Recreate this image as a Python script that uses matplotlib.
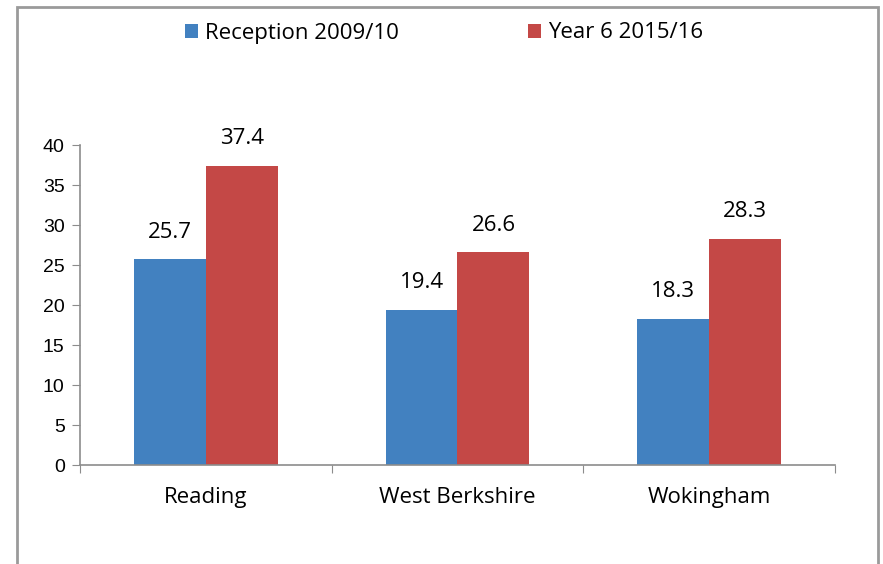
import numpy as np
import matplotlib.pyplot as plt
from matplotlib.patches import Rectangle

areas = ["Reading", "West Berkshire", "Wokingham"]
reception = [25.7, 19.4, 18.3]
year6 = [37.4, 26.6, 28.3]
series_names = ["Reception 2009/10", "Year 6 2015/16"]

blue = '#4281C0'
red = '#C44846'
grey = '#8C8C8C'

fig = plt.figure(figsize=(8.83, 5.64), dpi=100)
fig.patches.append(Rectangle((17/883, -0.1), (878-17)/883, 1.1 - 7/564, transform=fig.transFigure,
                             fill=False, edgecolor='#9A9A9A', linewidth=2))
ax = fig.add_axes([80/883, 1-465/564, (835-80)/883, (465-145)/564])

x = np.arange(len(areas))
w = 0.286
b1 = ax.bar(x - w/2, reception, w, color=blue, label=series_names[0])
b2 = ax.bar(x + w/2, year6, w, color=red, label=series_names[1])

for bars, vals in [(b1, reception), (b2, year6)]:
    for bar, v in zip(bars, vals):
        ax.annotate(f"{v:.1f}", (bar.get_x() + bar.get_width()/2, v), xytext=(0, 12),
                    textcoords='offset points', ha='center', va='bottom',
                    fontsize=16, family='Open Sans')

ax.set_xlim(-0.5, 2.5)
ax.set_ylim(0, 40)
ax.set_yticks(np.arange(0, 41, 5))
ax.set_yticklabels([str(v) for v in range(0, 41, 5)], family='Liberation Sans', fontsize=14)
ax.set_xticks([-0.5, 0.5, 1.5, 2.5])
ax.set_xticklabels([])
ax.set_xticks(x, minor=True)
ax.set_xticklabels(areas, minor=True, family='Open Sans', fontsize=16)
ax.tick_params(axis='x', which='minor', length=0, pad=16)
ax.tick_params(axis='x', which='major', length=6, color=grey, direction='out')
ax.tick_params(axis='y', length=6, color=grey, direction='out', pad=5)
for s in ['top', 'right']:
    ax.spines[s].set_visible(False)
for s in ['left', 'bottom']:
    ax.spines[s].set_color(grey)
    ax.spines[s].set_linewidth(1.2)

leg = fig.legend(handles=[b1, b2], loc='center', bbox_to_anchor=(444/883, 1-33/564), ncol=2,
                 frameon=False, prop={'family': 'Open Sans', 'size': 16},
                 handlelength=0.6, handleheight=0.6, handletextpad=0.3, columnspacing=5.8)

fig.savefig('out.png', dpi=100)
